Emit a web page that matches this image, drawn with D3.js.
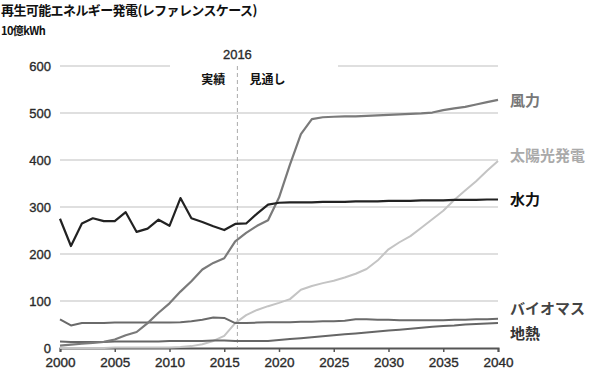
<!DOCTYPE html>
<html>
<head>
<meta charset="utf-8">
<script src="https://cdn.jsdelivr.net/npm/d3@7"></script>
<style>
  body { margin: 0; background: #fff; }
  svg { display: block; }
  .num { font-family: "Liberation Sans Narrow", "Arial Narrow", "Liberation Sans", sans-serif; font-size: 13px; fill: #2a2a2a; stroke: #2a2a2a; stroke-width: 0.35px; }
  .jp { font-family: "Noto Sans CJK JP", sans-serif; font-weight: bold; }
</style>
</head>
<body>
<div id="chart"></div>
<script>
const w = 600,
    h = 378;

const margin = {top: 66, right: 102, bottom: 30, left: 60};

const years = d3.range(2000, 2041);

const hydro = [275, 217, 265, 276, 270, 270, 289, 247, 254, 273, 260, 319, 276, 268, 259, 251, 264, 265, 286, 305,
    309, 310, 310, 310, 311, 311, 311, 312, 312, 312, 313, 313, 313, 314, 314, 314, 315, 315, 315, 316, 316];
const wind = [5, 7, 9, 11, 13, 18, 27, 34, 53, 75, 95, 120, 142, 167, 181, 191, 227, 245, 260, 272,
    320, 390, 455, 487, 491, 492, 493, 493, 494, 495, 496, 497, 498, 499, 501, 506, 510, 513, 518, 523, 528];
const solar = [0, 0, 0, 0, 0, 1, 1, 1, 1, 1, 1, 2, 4, 8, 15, 26, 53, 70, 81, 89,
    96, 104, 124, 132, 138, 143, 150, 158, 168, 186, 210, 225, 238, 256, 274, 292, 315, 335, 355, 377, 398];
const biomass = [61, 48, 53, 53, 53, 54, 54, 54, 54, 54, 54, 55, 57, 60, 65, 64, 53, 53, 54, 55,
    55, 55, 56, 56, 57, 57, 58, 61, 61, 60, 60, 59, 59, 59, 59, 59, 60, 60, 61, 61, 62];
const geothermal = [14, 13, 13, 13, 13, 14, 14, 14, 14, 14, 15, 15, 15, 15, 16, 16, 15, 15, 15, 15,
    17, 19, 21, 23, 25, 27, 29, 31, 33, 35, 37, 39, 41, 43, 45, 47, 48, 50, 51, 52, 53];

const yTicks = [0, 100, 200, 300, 400, 500, 600];
const xTicks = [2000, 2005, 2010, 2015, 2020, 2025, 2030, 2035, 2040];
const splitYear = 2016.2;

const series = [
    {name: "太陽光発電", values: solar, color: "#c4c4c4", label: "#aaa", width: 2},
    {name: "地熱", values: geothermal, color: "#666", label: "#333", width: 2},
    {name: "バイオマス", values: biomass, color: "#6a6a6a", label: "#444", width: 2},
    {name: "風力", values: wind, color: "#7a7a7a", label: "#777", width: 2.2},
    {name: "水力", values: hydro, color: "#222", label: "#111", width: 2.2}
];
const labelY = {"風力": 528, "太陽光発電": 410, "水力": 316, "バイオマス": 85, "地熱": 32};

const x = d3.scaleLinear().domain([2000, 2040]).range([margin.left, w - margin.right]);
const y = d3.scaleLinear().domain([0, 600]).range([h - margin.bottom, margin.top]);

const svg = d3.select("#chart").append("svg")
    .attr("width", w)
    .attr("height", h);

// titles
svg.append("text").attr("class", "jp")
    .attr("x", 1).attr("y", 15)
    .style("font-size", "13px").style("fill", "#111").style("letter-spacing", "-0.6px")
    .text("再生可能エネルギー発電(レファレンスケース)");
svg.append("text").attr("class", "jp")
    .attr("x", 1).attr("y", 35)
    .style("font-size", "11px").style("fill", "#111").style("letter-spacing", "-0.6px")
    .text("10億kWh");

// grid
svg.append("g").selectAll("line")
    .data(yTicks.filter(d => d > 0))
    .enter().append("line")
    .attr("x1", x(2000)).attr("x2", x(2040))
    .attr("y1", d => y(d)).attr("y2", d => y(d))
    .style("stroke", "#d4d4d4").style("stroke-width", 1.5);

// white box behind 実績 / 見通し
svg.append("rect")
    .attr("x", 170).attr("y", y(600) - 4).attr("width", 168).attr("height", 30)
    .style("fill", "#fff");

// y labels
svg.append("g").selectAll("text")
    .data(yTicks)
    .enter().append("text").attr("class", "num")
    .attr("x", 51).attr("y", d => y(d) + 5)
    .style("text-anchor", "end")
    .text(d => d);

// x axis
const xAxis = d3.axisBottom(x).tickValues(xTicks).tickSize(4).tickFormat(d3.format("d"));
const gx = svg.append("g")
    .attr("transform", "translate(0," + y(0) + ")")
    .call(xAxis);
gx.select(".domain").style("stroke", "#555").style("stroke-width", 2);
gx.selectAll(".tick line").style("stroke", "#555").style("stroke-width", 1.5);
gx.selectAll(".tick text").attr("class", "num").attr("dy", "0.9em").style("font-size", "13.5px");

// split line
svg.append("line")
    .attr("x1", x(splitYear)).attr("x2", x(splitYear))
    .attr("y1", y(600)).attr("y2", y(0))
    .style("stroke", "#aaa").style("stroke-width", 1)
    .style("stroke-dasharray", "4,3");
svg.append("text").attr("class", "num")
    .attr("x", x(splitYear)).attr("y", y(600) - 7)
    .style("text-anchor", "middle")
    .text("2016");
svg.append("text").attr("class", "jp")
    .attr("x", x(splitYear) - 12).attr("y", y(600) + 18)
    .style("text-anchor", "end").style("font-size", "12px").style("fill", "#111")
    .text("実績");
svg.append("text").attr("class", "jp")
    .attr("x", x(splitYear) + 12).attr("y", y(600) + 18)
    .style("font-size", "12px").style("fill", "#111")
    .text("見通し");

// lines
const line = d3.line()
    .x((d, i) => x(years[i]))
    .y(d => y(d));

svg.append("g").selectAll("path")
    .data(series)
    .enter().append("path")
    .attr("d", d => line(d.values))
    .style("fill", "none")
    .style("stroke", d => d.color)
    .style("stroke-width", d => d.width)
    .style("stroke-linejoin", "round");

// series labels
svg.append("g").selectAll("text")
    .data(series)
    .enter().append("text").attr("class", "jp")
    .attr("x", x(2040) + 12)
    .attr("y", d => y(labelY[d.name]) + 6)
    .style("font-size", "15px")
    .style("fill", d => d.label)
    .text(d => d.name);
</script>
</body>
</html>
